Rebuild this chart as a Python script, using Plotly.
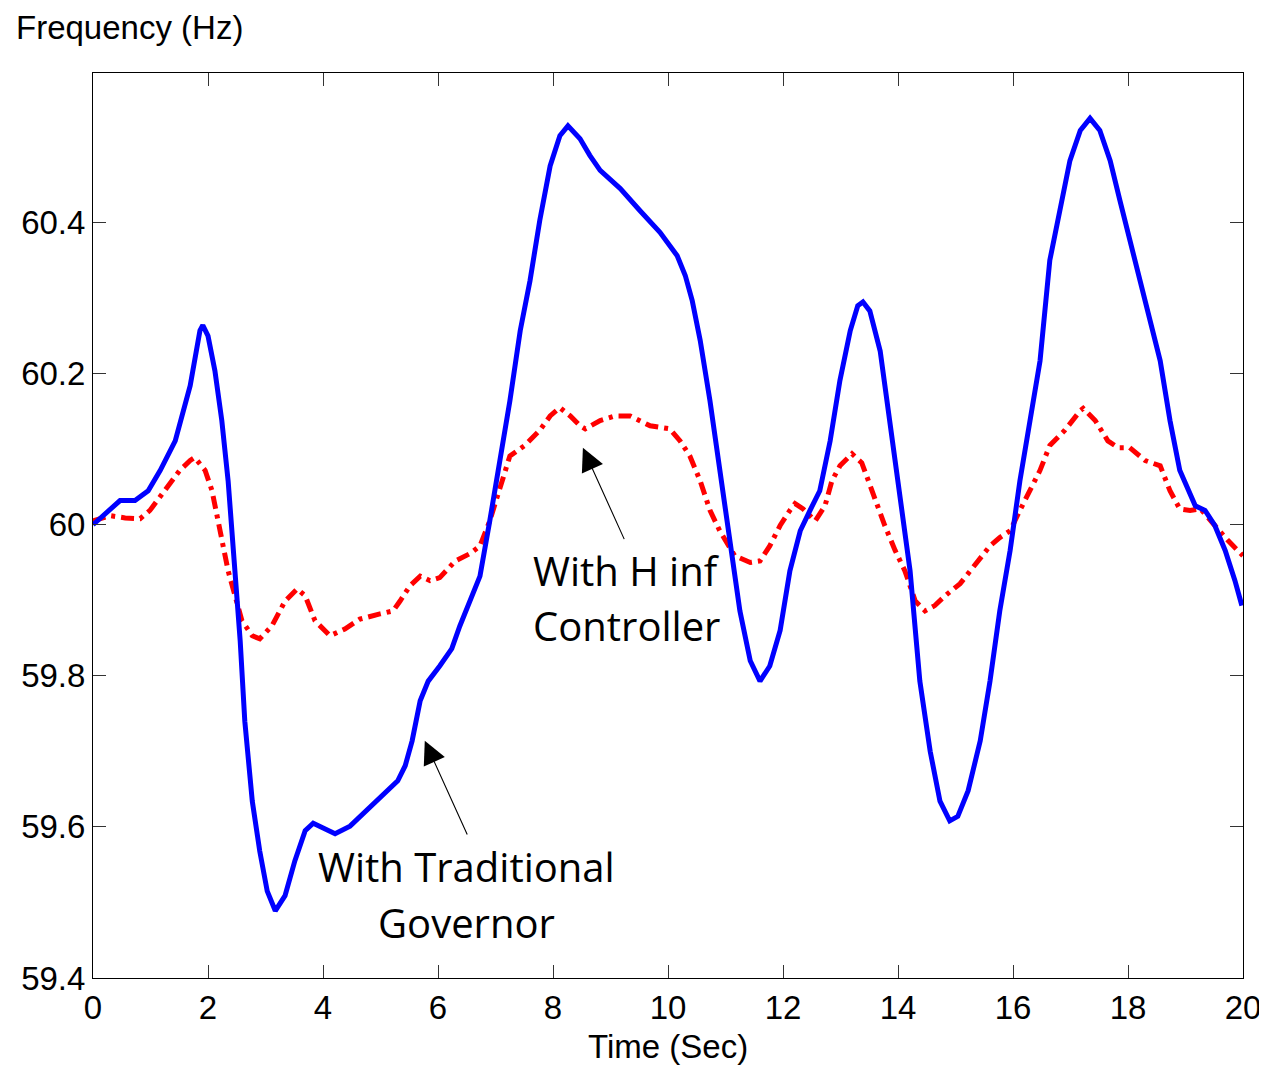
import plotly.graph_objects as go

# Traditional governor (blue solid)
t_gov = [0, 0.47, 0.73, 0.96, 1.17, 1.43, 1.69, 1.86, 1.91, 2.0, 2.12, 2.24, 2.35, 2.43, 2.56, 2.64, 2.77, 2.9,
         3.03, 3.17, 3.34, 3.51, 3.69, 3.83, 3.95, 4.21, 4.47, 5.3, 5.43, 5.55, 5.69, 5.83, 6.03, 6.24, 6.38, 6.56,
         6.73, 6.9, 7.08, 7.25, 7.43, 7.6, 7.77, 7.95, 8.12, 8.26, 8.47, 8.64, 8.82, 9.17, 9.51, 9.86, 10.16, 10.3,
         10.42, 10.56, 10.73, 10.9, 11.08, 11.25, 11.43, 11.6, 11.77, 11.95, 12.12, 12.3, 12.47, 12.64, 12.82, 12.99,
         13.17, 13.3, 13.39, 13.51, 13.69, 13.86, 14.03, 14.21, 14.38, 14.56, 14.73, 14.9, 15.04, 15.22, 15.43, 15.6,
         15.77, 15.95, 16.12, 16.3, 16.47, 16.64, 16.82, 16.99, 17.17, 17.34, 17.51, 17.69, 17.86, 18.03, 18.21,
         18.38, 18.56, 18.73, 18.9, 19.17, 19.34, 19.51, 19.69, 19.86, 19.98]
f_gov = [60.0, 60.032, 60.032, 60.045, 60.072, 60.111, 60.184, 60.257, 60.264, 60.25, 60.204, 60.138, 60.058,
         59.979, 59.846, 59.74, 59.634, 59.568, 59.515, 59.489, 59.509, 59.555, 59.595, 59.605, 59.601, 59.591,
         59.601, 59.661, 59.681, 59.714, 59.767, 59.793, 59.813, 59.836, 59.866, 59.899, 59.932, 60.005, 60.085,
         60.164, 60.257, 60.323, 60.403, 60.475, 60.515, 60.528, 60.511, 60.489, 60.469, 60.445, 60.416, 60.387,
         60.356, 60.33, 60.297, 60.244, 60.164, 60.072, 59.979, 59.886, 59.82, 59.793, 59.813, 59.86, 59.939,
         59.992, 60.019, 60.045, 60.111, 60.191, 60.257, 60.29, 60.295, 60.283, 60.23, 60.138, 60.045, 59.939,
         59.793, 59.7, 59.634, 59.608, 59.614, 59.648, 59.714, 59.793, 59.886, 59.966, 60.058, 60.138, 60.217,
         60.35, 60.416, 60.482, 60.522, 60.538, 60.522, 60.482, 60.429, 60.376, 60.323, 60.27, 60.217, 60.138,
         60.072, 60.025, 60.019, 59.999, 59.966, 59.926, 59.893]

# H-infinity controller (red dash-dot)
t_hinf = [0, 0.3, 0.56, 0.82, 0.99, 1.25, 1.51, 1.69, 1.77, 1.95, 2.07, 2.21, 2.35, 2.47, 2.59, 2.77, 2.9, 3.11,
          3.34, 3.55, 3.69, 3.86, 4.12, 4.38, 4.64, 4.99, 5.22, 5.34, 5.51, 5.69, 5.86, 6.03, 6.3, 6.56, 6.73, 6.9,
          7.08, 7.25, 7.51, 7.77, 7.95, 8.12, 8.3, 8.47, 8.56, 8.82, 9.08, 9.34, 9.69, 10.03, 10.21, 10.38, 10.56,
          10.73, 10.9, 11.16, 11.43, 11.6, 11.77, 11.95, 12.12, 12.21, 12.35, 12.56, 12.73, 12.85, 12.99, 13.2,
          13.37, 13.6, 13.77, 13.95, 14.12, 14.3, 14.47, 14.64, 14.82, 15.08, 15.34, 15.6, 15.77, 15.95, 16.12,
          16.3, 16.47, 16.64, 16.9, 17.17, 17.22, 17.43, 17.65, 17.83, 18.03, 18.3, 18.56, 18.73, 18.9, 19.08,
          19.26, 19.51, 19.74, 20.0]
f_hinf = [60.005, 60.012, 60.009, 60.008, 60.019, 60.045, 60.072, 60.085, 60.089, 60.072, 60.045, 59.992, 59.939,
          59.906, 59.873, 59.853, 59.849, 59.866, 59.899, 59.915, 59.906, 59.873, 59.853, 59.862, 59.875, 59.882,
          59.886, 59.899, 59.919, 59.932, 59.926, 59.93, 59.952, 59.962, 59.972, 60.005, 60.052, 60.091, 60.105,
          60.125, 60.144, 60.155, 60.144, 60.131, 60.127, 60.138, 60.144, 60.144, 60.131, 60.127, 60.111, 60.091,
          60.058, 60.019, 59.992, 59.959, 59.95, 59.952, 59.972, 59.999, 60.019, 60.028, 60.021, 60.005, 60.025,
          60.058, 60.078, 60.094, 60.082, 60.032, 59.999, 59.966, 59.939, 59.899, 59.886, 59.893, 59.906, 59.922,
          59.946, 59.972, 59.983, 59.992, 60.019, 60.045, 60.072, 60.105, 60.125, 60.151, 60.154, 60.138, 60.111,
          60.102, 60.102, 60.085, 60.078, 60.045, 60.021, 60.019, 60.021, 59.999, 59.979, 59.959]

x_ticks = [0, 2, 4, 6, 8, 10, 12, 14, 16, 18, 20]
y_ticks = [59.4, 59.6, 59.8, 60.0, 60.2, 60.4]
y_tick_text = ["59.4", "59.6", "59.8", "60", "60.2", "60.4"]

fig = go.Figure()
fig.add_trace(go.Scatter(x=t_hinf, y=f_hinf, mode="lines",
                         line=dict(color="#ff0000", width=5, dash="13px,6px,4px,6px"),
                         showlegend=False))
fig.add_trace(go.Scatter(x=t_gov, y=f_gov, mode="lines",
                         line=dict(color="#0000ff", width=5),
                         showlegend=False))

axis_font = dict(family="Liberation Sans, Arial, sans-serif", size=33, color="black")
ann_font = dict(family="Open Sans, Lato, sans-serif", size=40, color="black")
annotations = [
    dict(x=9.27, y=59.94, text="With H inf", showarrow=False, font=ann_font, xref="x", yref="y"),
    dict(x=9.27, y=59.866, text="Controller", showarrow=False, font=ann_font, xref="x", yref="y"),
    dict(x=6.5, y=59.547, text="With Traditional", showarrow=False, font=ann_font, xref="x", yref="y"),
    dict(x=6.5, y=59.473, text="Governor", showarrow=False, font=ann_font, xref="x", yref="y"),
    dict(x=8.52, y=60.102, ax=9.25, ay=59.979, xref="x", yref="y", axref="x", ayref="y", text="",
         showarrow=True, arrowhead=2, arrowsize=4.2, arrowwidth=1.1, arrowcolor="black"),
    dict(x=5.77, y=59.714, ax=6.52, ay=59.588, xref="x", yref="y", axref="x", ayref="y", text="",
         showarrow=True, arrowhead=2, arrowsize=4.2, arrowwidth=1.1, arrowcolor="black"),
    dict(x=0, y=1, xref="paper", yref="paper", xanchor="left", yanchor="top", yshift=65, xshift=-78,
         borderpad=0, text="Frequency (Hz)", showarrow=False, font=axis_font),
    dict(x=0.5, y=0, xref="paper", yref="paper", xanchor="center", yanchor="middle", yshift=-68,
         borderpad=0, text="Time (Sec)", showarrow=False, font=axis_font),
]

fig.update_layout(
    width=1259, height=1058,
    margin=dict(l=85, r=24, t=65, b=88, autoexpand=False),
    paper_bgcolor="white", plot_bgcolor="white",
    font=axis_font,
    annotations=annotations,
    xaxis=dict(range=[0, 20], tickvals=x_ticks, ticks="inside", ticklen=13, tickcolor="#333333",
               showline=True, linecolor="black", linewidth=1, mirror="ticks", showgrid=False, zeroline=False,
               tickfont=axis_font, automargin=False),
    yaxis=dict(range=[59.4, 60.598], tickvals=y_ticks, ticktext=y_tick_text, ticks="inside", ticklen=13,
               tickcolor="#333333", showline=True, linecolor="black", linewidth=1, mirror="ticks",
               showgrid=False, zeroline=False, tickfont=axis_font, automargin=False),
)

fig.write_html("out.html")
